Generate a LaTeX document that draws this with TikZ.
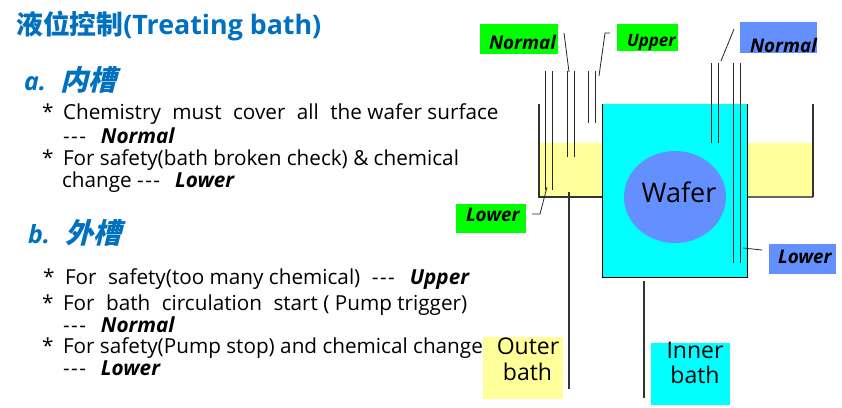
\documentclass[tikz,border=0pt]{standalone}
\usepackage{fontspec}
\usetikzlibrary{shapes.geometric}
\setmainfont{Open Sans}
\newfontfamily\cjkfont{Noto Sans CJK SC}
\newfontfamily\cjkslant{Noto Sans CJK SC Bold}[FakeSlant=0.25]
\definecolor{titleblue}{HTML}{0070C0}
\definecolor{lgreen}{HTML}{00FF00}
\definecolor{lblue}{HTML}{6490FF}
\definecolor{lyellow}{HTML}{FFFF99}
\definecolor{lcyan}{HTML}{00FFFF}
\definecolor{wall}{HTML}{333333}
\tikzset{
  x=1pt,y=-1pt,
  txt/.style={anchor=base west,inner sep=0pt,outer sep=0pt,text=black,font=\fontsize{20.7}{24}\selectfont},
  head/.style={anchor=base west,inner sep=0pt,outer sep=0pt,text=titleblue,font=\fontsize{25}{30}\selectfont\bfseries\itshape},
  lvl/.style={anchor=base west,inner sep=0pt,outer sep=0pt,text=black,font=\fontsize{18.8}{22}\selectfont\bfseries\itshape},
  big/.style={anchor=base,inner sep=0pt,outer sep=0pt,text=black,font=\fontsize{23}{27}\selectfont},
  wl/.style={draw=wall,line width=1.1pt},
  sens/.style={draw=black!85,line width=0.9pt},
  lead/.style={draw=black!85,line width=0.8pt},
}
\newcommand{\wsp}{\hspace{11.5pt}}
\newcommand{\dgap}{\hspace{15pt}}
\newcommand{\dsh}{-\kern1.5pt-\kern1.5pt-}
\begin{document}
\begin{tikzpicture}
\useasboundingbox (0,0) rectangle (842,407);
\fill[white] (0,0) rectangle (842,407);
% text
\node[anchor=base west,inner sep=0pt,text=titleblue,font=\fontsize{26.8}{32}\selectfont\bfseries] (title) at (16,34) {{\cjkfont 液位控制}(Treating bath)};
\node[head] (ha) at (24,90) {a.\hspace{15pt}{\fontsize{28}{30}\selectfont\cjkslant 内槽}};
\node[txt] (a1s) at (42,119) {*};
\node[txt] (a1) at (63,119) {Chemistry\wsp must\wsp cover\wsp all\wsp the wafer surface};
\node[txt] (a1b) at (63,143) {\dsh\dgap\textbf{\textit{Normal}}};
\node[txt] (a2s) at (42,165) {*};
\node[txt] (a2) at (63,165) {For safety(bath broken check) \& chemical};
\node[txt] (a2b) at (62,187) {change \dsh\dgap\textbf{\textit{Lower}}};
\node[head] (hb) at (28,243) {b.\hspace{15pt}{\fontsize{28}{30}\selectfont\cjkslant 外槽}};
\node[txt] (b1s) at (43,284) {*};
\node[txt] (b1) at (65,284) {For\wsp safety(too many chemical)\wsp \dsh\dgap\textbf{\textit{Upper}}};
\node[txt] (b2s) at (42,310) {*};
\node[txt] (b2) at (63,310) {For\wsp bath\wsp circulation\wsp start ( Pump trigger)};
\node[txt] (b2b) at (63,332) {\dsh\dgap\textbf{\textit{Normal}}};
\node[txt] (b3s) at (42,353) {*};
\node[txt] (b3) at (63,353) {For safety(Pump stop) and chemical change};
\node[txt] (b3b) at (63,375) {\dsh\dgap\textbf{\textit{Lower}}};
% baths
\fill[lyellow] (539,143) rectangle (602,197);
\fill[lyellow] (747,143) rectangle (813,197);
\fill[lcyan] (602,104) rectangle (747,277);
\coordinate (olt) at (539,104); \coordinate (olb) at (539,197);
\coordinate (ort) at (813,104); \coordinate (orb) at (813,197);
\draw[wl] (olt) -- (olb) -- (602,197);
\draw[wl,draw=black!60] (747,197) -- (orb);
\draw[wl] (ort) -- (orb);
\draw[draw=black,line width=1pt] (602,104) -- (602,277) -- (747,277) -- (747,104);
\node[ellipse,fill=lblue,minimum width=102pt,minimum height=92pt,inner sep=0pt,outer sep=0pt] (waf) at (675,197) {};
\node[anchor=base,inner sep=0pt,font=\fontsize{27}{32}\selectfont] (wafer) at (679,202) {Wafer};
% sensors
\foreach \xa/\ya/\yb in {545/71/190,552/71/190,567/71/157,574/71/157,588/71/123,595/71/123,711/63/143,718/63/143,733/63/263,740/63/263}
  \draw[sens] (\xa,\ya) -- (\xa,\yb);
% labels
\node[fill=lgreen,minimum width=78pt,minimum height=30pt,inner sep=0pt] (n1) at (519,39) {};
\node[lvl] at (489,49) {Normal};
\node[fill=lgreen,minimum width=61pt,minimum height=27pt,inner sep=0pt] (u1) at (647.5,37.5) {};
\node[lvl,font=\fontsize{17}{20}\selectfont\bfseries\itshape] at (627,46) {Upper};
\node[fill=lblue,minimum width=77pt,minimum height=31pt,inner sep=0pt] (n2) at (778.5,37.5) {};
\node[lvl] at (750,52) {Normal};
\node[fill=lgreen,minimum width=70pt,minimum height=29pt,inner sep=0pt] (l1) at (491,218.5) {};
\node[lvl] at (466,221) {Lower};
\node[fill=lblue,minimum width=67pt,minimum height=30pt,inner sep=0pt] (l2) at (802.5,259) {};
\node[lvl] at (778,263) {Lower};
\node[fill=lyellow,minimum width=80pt,minimum height=62pt,inner sep=0pt] (ob) at (523,368) {};
\node[big] at (528,354) {Outer};
\node[big] at (527.5,380) {bath};
\node[fill=lcyan,minimum width=79pt,minimum height=62pt,inner sep=0pt] (ib) at (690.5,374) {};
\node[big] at (695,358) {Inner};
\node[big] at (695,383) {bath};
% leaders
\coordinate (n1a) at (564,33); \coordinate (n1b) at (569,72);
\coordinate (u1a) at (610,33); \coordinate (u1m) at (605,33); \coordinate (u1b) at (599,76);
\coordinate (n2a) at (734,29); \coordinate (n2b) at (721,61);
\coordinate (l1a) at (547,187); \coordinate (l1m) at (540,214); \coordinate (l1b) at (532,214);
\coordinate (l2a) at (743,248); \coordinate (l2b) at (762,250);
\coordinate (oba) at (569,192); \coordinate (obb) at (569,389);
\coordinate (iba) at (644,281); \coordinate (ibb) at (644,398);
\draw[lead] (n1a) -- (n1b);
\draw[lead] (u1a) -- (u1m) -- (u1b);
\draw[lead] (n2a) -- (n2b);
\draw[lead] (l1a) -- (l1m) -- (l1b);
\draw[lead] (l2a) -- (l2b);
\draw[wl] (oba) -- (obb);
\draw[wl] (iba) -- (ibb);
\end{tikzpicture}
\end{document}
